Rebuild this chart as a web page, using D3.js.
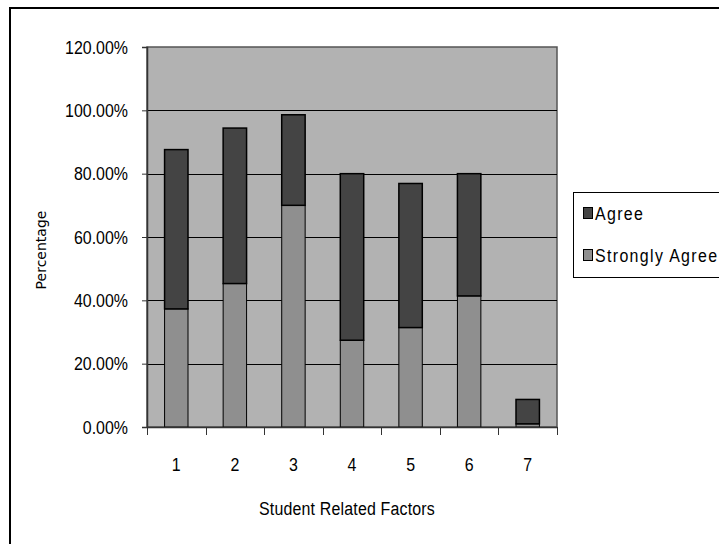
<!DOCTYPE html>
<html>
<head>
<meta charset="UTF-8">
<title>Student Related Factors</title>
<script src="https://cdn.jsdelivr.net/npm/d3@7"></script>
<style>
  * { margin: 0; padding: 0; }
  body { background: #fff; }
  .narrow { font-family: "Liberation Sans Narrow", "Arial Narrow", "Liberation Sans", sans-serif; }
</style>
</head>
<body>
<div id="chart"></div>
<script>
// data
var categories = ["1", "2", "3", "4", "5", "6", "7"];
var stronglyAgree = [37.3, 45.3, 70.0, 27.4, 31.4, 41.4, 1.0];
var agree = [50.3, 49.1, 28.6, 52.6, 45.5, 38.6, 7.7];
var yTicks = [0, 20, 40, 60, 80, 100, 120];
var seriesNames = ["Agree", "Strongly Agree"];
var seriesColors = ["#444444", "#8f8f8f"];

var w = 719, h = 544;
var pLeft = 147, pRight = 557, pTop = 47, pBottom = 427;
var fs = 19, sx = 0.84;   // narrow look: squeeze the regular font

var svg = d3.select("#chart").append("svg")
    .attr("width", w)
    .attr("height", h);

// squeeze a text horizontally, keeping its anchor point
function squeeze(sel) {
    sel.each(function() {
        var t = d3.select(this);
        var xx = +t.attr("x") || 0;
        t.attr("x", xx / sx)
         .attr("transform", "scale(" + sx + ",1)");
    });
}

// outer chart frame (runs off the right and bottom edge)
svg.append("rect")
    .attr("x", 10).attr("y", 8)
    .attr("width", 740).attr("height", 560)
    .attr("fill", "#fff")
    .attr("stroke", "#000")
    .attr("stroke-width", 2);

var x = d3.scaleBand()
    .domain(categories)
    .range([pLeft, pRight])
    .paddingInner(0)
    .paddingOuter(0);

var y = d3.scaleLinear()
    .domain([0, 120])
    .range([pBottom, pTop]);

// plot area
svg.append("rect")
    .attr("x", pLeft).attr("y", pTop)
    .attr("width", pRight - pLeft).attr("height", pBottom - pTop)
    .attr("fill", "#b2b2b2")
    .attr("stroke", "#555")
    .attr("stroke-width", 1.5);

// gridlines
svg.selectAll(".grid")
    .data(yTicks.filter(function(d) { return d > 0 && d < 120; }))
    .enter()
    .append("line")
    .attr("x1", pLeft).attr("x2", pRight)
    .attr("y1", function(d) { return Math.round(y(d)) + 0.5; })
    .attr("y2", function(d) { return Math.round(y(d)) + 0.5; })
    .attr("stroke", "#000")
    .attr("stroke-width", 1);

// stacked bars
var stack = categories.map(function(c, i) {
    return { cat: c, sa: stronglyAgree[i], ag: agree[i] };
});
var bw = x.bandwidth() * 0.4;

svg.selectAll(".sa")
    .data(stack)
    .enter()
    .append("rect")
    .attr("x", function(d) { return x(d.cat) + (x.bandwidth() - bw) / 2; })
    .attr("y", function(d) { return y(d.sa); })
    .attr("width", bw)
    .attr("height", function(d) { return y(0) - y(d.sa); })
    .attr("fill", seriesColors[1])
    .attr("stroke", "#000")
    .attr("stroke-width", 1);

svg.selectAll(".ag")
    .data(stack)
    .enter()
    .append("rect")
    .attr("x", function(d) { return x(d.cat) + (x.bandwidth() - bw) / 2; })
    .attr("y", function(d) { return y(d.sa + d.ag); })
    .attr("width", bw)
    .attr("height", function(d) { return y(d.sa) - y(d.sa + d.ag); })
    .attr("fill", seriesColors[0])
    .attr("stroke", "#000")
    .attr("stroke-width", 1.5);

// y axis
var yAxis = svg.append("g")
    .attr("transform", "translate(" + pLeft + ",0)")
    .call(d3.axisLeft(y).tickValues(yTicks).tickSize(5).tickPadding(14)
        .tickFormat(function(d) { return d.toFixed(2) + "%"; }));
yAxis.select(".domain").attr("stroke", "#333").attr("stroke-width", 1.5);
yAxis.selectAll(".tick line").attr("stroke", "#333");
yAxis.selectAll("text")
    .attr("class", "narrow")
    .attr("font-size", fs + "px")
    .attr("fill", "#000")
    .call(squeeze);

// x axis, ticks on category boundaries
var xAxis = svg.append("g")
    .attr("transform", "translate(0," + pBottom + ")")
    .call(d3.axisBottom(x).tickSize(0).tickPadding(31));
xAxis.select(".domain").attr("stroke", "#333").attr("stroke-width", 1.5);
xAxis.selectAll("text")
    .attr("class", "narrow")
    .attr("font-size", fs + "px")
    .attr("fill", "#000")
    .call(squeeze);

svg.selectAll(".xtick")
    .data(d3.range(categories.length + 1))
    .enter()
    .append("line")
    .attr("x1", function(i) { return Math.round(pLeft + i * x.step()) + 0.5; })
    .attr("x2", function(i) { return Math.round(pLeft + i * x.step()) + 0.5; })
    .attr("y1", pBottom)
    .attr("y2", pBottom + 8)
    .attr("stroke", "#333");

// axis titles
svg.append("text")
    .attr("class", "narrow")
    .attr("x", 347)
    .attr("y", 515)
    .attr("text-anchor", "middle")
    .attr("font-size", fs + "px")
    .attr("letter-spacing", "0.2px")
    .text("Student Related Factors")
    .call(squeeze);

svg.append("text")
    .attr("transform", "translate(46,250) rotate(-90)")
    .attr("text-anchor", "middle")
    .attr("font-family", "DejaVu Sans, sans-serif")
    .attr("font-size", "14px")
    .text("Percentage");

// legend
var lg = svg.append("g");
lg.append("rect")
    .attr("x", 573.5).attr("y", 192.5)
    .attr("width", 200).attr("height", 85)
    .attr("fill", "#fff")
    .attr("stroke", "#000");

var items = lg.selectAll(".item")
    .data(seriesNames)
    .enter()
    .append("g")
    .attr("transform", function(d, i) { return "translate(583," + (213 + i * 42) + ")"; });
items.append("rect")
    .attr("x", 0.5).attr("y", -5.5)
    .attr("width", 9).attr("height", 11)
    .attr("fill", function(d, i) { return seriesColors[i]; })
    .attr("stroke", "#000");
items.append("text")
    .attr("class", "narrow")
    .attr("x", 12)
    .attr("y", 7)
    .attr("font-size", fs + "px")
    .attr("letter-spacing", "1.6px")
    .text(function(d) { return d; })
    .call(squeeze);
</script>
</body>
</html>
